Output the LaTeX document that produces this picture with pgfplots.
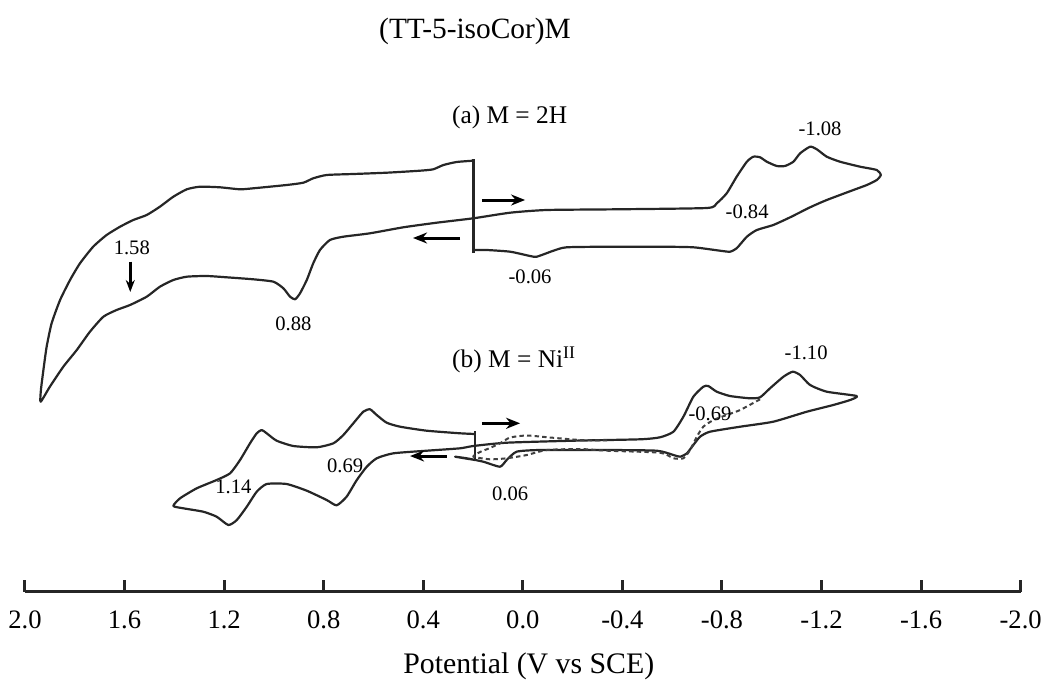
\documentclass[border=0pt]{standalone}
\usepackage{pgfplots}
\pgfplotsset{compat=1.18}
\usepackage{fontspec}
\setmainfont{Liberation Serif}
\usetikzlibrary{arrows.meta}
\newcommand{\annot}{\fontsize{10.3}{12}\selectfont}
\begin{document}
\begin{tikzpicture}
\path[use as bounding box] (-12.5pt,-47.65pt) rectangle (512.5pt,295.85pt);
\begin{axis}[
  at={(0,0)}, anchor=south west,
  scale only axis, width=497.85pt, height=295.85pt,
  xmin=-2, xmax=2, x dir=reverse,
  ymin=-591.7, ymax=0,
  axis x line=bottom, axis y line=none,
  x axis line style={line width=1.5pt,-,black!85},
  xtick={-2,-1.6,-1.2,-0.8,-0.4,0,0.4,0.8,1.2,1.6,2},
  xticklabels={-2.0,-1.6,-1.2,-0.8,-0.4,0.0,0.4,0.8,1.2,1.6,2.0},
  tick align=inside, major tick length=6pt,
  xtick style={line width=1.5pt,black!85},
  ticklabel style={font=\fontsize{13.3}{16}\selectfont, yshift=-6pt},
  xlabel={Potential (V vs SCE)},
  xlabel style={font=\fontsize{14.9}{18}\selectfont, at={(axis description cs:0.5,0)}, anchor=center, yshift=-37.5pt, xshift=3pt},
  clip=false,
  cv/.style={line width=1.1pt, black!85, line join=round, smooth, tension=0.35},
]
% titles
\node[font=\fontsize{14.7}{17}\selectfont] at (axis cs:0.192,-31) {(TT-5-isoCor)M};
\node[font=\fontsize{12.7}{15}\selectfont] at (axis cs:0.053,-117) {(a) M = 2H};
\node[font=\fontsize{12.7}{15}\selectfont] at (axis cs:0.035,-360) {(b) M = Ni\textsuperscript{II}};

% curve (a)
\addplot[cv] coordinates {
(0.199,-160.7) (0.266,-162) (0.319,-165) (0.360,-169.3) (0.413,-170.7) (0.547,-172.7)
(0.681,-174) (0.788,-175) (0.842,-178.3) (0.882,-182.7) (0.949,-185) (1.083,-188.3)
(1.136,-189.3) (1.217,-187.3) (1.297,-186.7) (1.350,-189.3) (1.404,-196.7) (1.458,-206.7)
(1.511,-215) (1.565,-220) (1.618,-226.7) (1.672,-235) (1.726,-246.7) (1.779,-263.3)
(1.819,-280) (1.859,-300) (1.893,-323.3) (1.913,-346.7) (1.926,-370) (1.936,-390)
(1.937,-401.7)
(1.900,-386.7) (1.846,-366.7) (1.792,-350) (1.739,-331.7) (1.685,-316.7) (1.632,-310)
(1.578,-305) (1.511,-296.7) (1.458,-286.7) (1.404,-280) (1.350,-276.7) (1.270,-276)
(1.190,-277.3) (1.083,-279.3) (1.002,-281.7) (0.962,-288.3) (0.935,-296.7) (0.915,-299.3)
(0.895,-293.3) (0.868,-280) (0.842,-263.3) (0.815,-250) (0.775,-240) (0.721,-236.7)
(0.614,-233.3) (0.480,-227.3) (0.346,-222.7) (0.199,-218.3) (0.051,-212.7) (-0.096,-210)
(-0.377,-209.3) (-0.739,-208) (-0.779,-203.3) (-0.819,-193.3) (-0.859,-176.7) (-0.900,-161.7)
(-0.926,-156.7) (-0.953,-157.3) (-0.980,-161.7) (-1.020,-166) (-1.053,-166) (-1.087,-161.7)
(-1.114,-153.3) (-1.154,-146.7) (-1.181,-149.3) (-1.221,-156.7) (-1.274,-161.7) (-1.355,-166.7)
(-1.422,-170) (-1.438,-175) (-1.422,-180) (-1.382,-185) (-1.328,-190) (-1.221,-200)
(-1.154,-207.3) (-1.074,-217.3) (-1.006,-225) (-0.940,-230) (-0.900,-236.7) (-0.859,-248.3)
(-0.832,-251.7) (-0.792,-250.7) (-0.685,-247.3) (-0.551,-246.7) (-0.350,-246.7) (-0.176,-247.3)
(-0.123,-250.7) (-0.056,-256.7) (-0.029,-256) (0.051,-251.7) (0.145,-250) (0.196,-250)
};
\addplot[line width=1.5pt, black!85] coordinates {(0.198,-253) (0.198,-159)};

% curve (b) solid
\addplot[cv] coordinates {
(0.192,-434) (0.252,-433.3) (0.386,-430.7) (0.493,-426.7) (0.547,-422.7) (0.587,-415)
(0.614,-409.3) (0.641,-411.7) (0.681,-423.3) (0.721,-435) (0.761,-443.3) (0.828,-447.3)
(0.922,-446) (0.989,-440.7) (1.029,-433.3) (1.049,-430) (1.069,-433.3) (1.096,-443.3)
(1.136,-460) (1.176,-473.3) (1.230,-480) (1.310,-488.3) (1.377,-498.3) (1.404,-506)
(1.364,-508.3) (1.284,-511.7) (1.230,-516.7) (1.183,-525) (1.149,-520) (1.109,-506.7)
(1.069,-491.7) (1.029,-484) (0.949,-484) (0.868,-490.7) (0.788,-500) (0.748,-505.3)
(0.708,-496.7) (0.667,-480) (0.627,-466.7) (0.587,-458.3) (0.520,-453.3) (0.386,-450.7)
(0.252,-448.3) (0.199,-446) (0.065,-442.7) (-0.203,-440.7) (-0.471,-439.3) (-0.551,-437.3)
(-0.605,-431.7) (-0.645,-416.7) (-0.685,-396.7) (-0.725,-386.7) (-0.745,-386) (-0.779,-391.7)
(-0.832,-396) (-0.913,-398.3) (-0.953,-397.3) (-0.993,-388.3) (-1.047,-376.7) (-1.084,-371.7)
(-1.114,-375) (-1.154,-385) (-1.221,-391.7) (-1.341,-396) (-1.315,-400) (-1.247,-405)
(-1.141,-411.7) (-1.006,-421.7) (-0.873,-426.7) (-0.752,-431.7) (-0.712,-436.7) (-0.685,-445)
(-0.659,-453.3) (-0.632,-456.7) (-0.605,-455) (-0.538,-450.7) (-0.337,-450) (-0.069,-450)
(0.025,-451.7) (0.065,-460) (0.092,-466.7) (0.159,-461.7) (0.225,-458.3) (0.272,-456.7)
(0.192,-460)
};
\addplot[line width=1.3pt, black!85] coordinates {(0.192,-461) (0.192,-431)};
% curve (b) dashed
\addplot[line width=1.0pt, black!75, dash pattern=on 2.2pt off 1.6pt, line join=round, smooth, tension=0.35] coordinates {
(-0.953,-399.3) (-0.873,-410) (-0.819,-415) (-0.766,-420) (-0.725,-426.7) (-0.699,-436.7)
(-0.672,-450) (-0.645,-458.3) (-0.605,-458.3) (-0.551,-452.7) (-0.337,-450.7) (-0.230,-449)
(-0.096,-450) (-0.016,-455) (0.065,-458.3) (0.132,-459.3) (0.199,-456.7) (0.172,-452)
(0.132,-448) (0.092,-443.3) (0.051,-437.5) (-0.016,-435.5) (-0.109,-437.5) (-0.230,-440)
(-0.350,-440.5)
};

% arrows
\addplot[line width=1.5pt, black, -{Stealth[length=7pt,width=5.5pt]}] coordinates {(0.165,-200) (-0.009,-200)};
\addplot[line width=1.5pt, black, -{Stealth[length=7pt,width=5.5pt]}] coordinates {(0.252,-238) (0.441,-238)};
\addplot[line width=1.5pt, black, -{Stealth[length=6pt,width=4.5pt]}] coordinates {(1.577,-261.7) (1.577,-292)};
\addplot[line width=1.5pt, black, -{Stealth[length=7pt,width=5.5pt]}] coordinates {(0.165,-423.3) (0.011,-423.3)};
\addplot[line width=1.5pt, black, -{Stealth[length=7pt,width=5.5pt]}] coordinates {(0.306,-456) (0.453,-456)};

% peak labels
\node[font=\annot] at (axis cs:1.571,-247.3) {1.58};
\node[font=\annot] at (axis cs:0.922,-323.3) {0.88};
\node[font=\annot] at (axis cs:-0.029,-276.7) {-0.06};
\node[font=\annot] at (axis cs:-0.901,-211.7) {-0.84};
\node[font=\annot] at (axis cs:-1.194,-128.3) {-1.08};
\node[font=\annot] at (axis cs:1.163,-486.7) {1.14};
\node[font=\annot] at (axis cs:0.714,-466) {0.69};
\node[font=\annot] at (axis cs:0.051,-494) {0.06};
\node[font=\annot] at (axis cs:-0.752,-413.3) {-0.69};
\node[font=\annot] at (axis cs:-1.138,-353) {-1.10};
\end{axis}
\end{tikzpicture}
\end{document}
